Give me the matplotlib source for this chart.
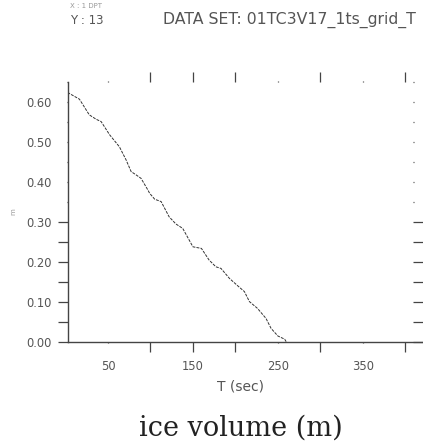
import matplotlib
matplotlib.use("Agg")
import matplotlib.pyplot as plt

# time (sec) and ice volume (m)
t_sec = [2.4, 16.5, 28, 36, 42, 52, 63.5, 71.4, 77.3, 83, 89, 97, 99, 105,
         112.6, 122, 130, 138, 150, 160, 169, 177, 183, 193, 203, 210.6,
         216.5, 226, 236, 242, 250, 258, 260]
ice_vol = [0.624, 0.607, 0.568, 0.557, 0.551, 0.518, 0.488, 0.455, 0.426,
           0.418, 0.409, 0.38, 0.372, 0.357, 0.351, 0.313, 0.295, 0.284,
           0.238, 0.234, 0.205, 0.188, 0.184, 0.159, 0.14, 0.126, 0.101,
           0.084, 0.059, 0.034, 0.015, 0.007, 0.0]

# ticks drawn in full, and the ones that only show as dots in the reference
x_full = [100, 150, 200, 300, 400]
x_full_labels = ["", "150", "", "", ""]
x_faint = [50, 250, 350]
x_faint_labels = ["50", "250", "350"]
y_full = [0.0, 0.05, 0.1, 0.15, 0.2, 0.25, 0.3]
y_full_labels = ["0.00", "", "0.10", "", "0.20", "", "0.30"]
y_faint = [0.35, 0.4, 0.45, 0.5, 0.55, 0.6, 0.65]
y_faint_labels = ["", "0.40", "", "0.50", "", "0.60", ""]

W, H = 423, 444
fig = plt.figure(figsize=(W / 100, H / 100), dpi=100)
ax = fig.add_axes([68 / W, 1 - 342 / H, (413 - 68) / W, (342 - 82) / H])

txtc = "#555555"
axc = "#444444"
ax.plot(t_sec, ice_vol, color="#333333", lw=0.7, ls=(0, (3, 1.2)))

ax.set_xlim(3, 409)
ax.set_ylim(0, 0.65)

ax.spines["top"].set_visible(False)
ax.spines["right"].set_visible(False)
for s in ("left", "bottom"):
    ax.spines[s].set_color(axc)
    ax.spines[s].set_linewidth(1.0)
ax.spines["bottom"].set_bounds(3, 421)

ax.xaxis.remove_overlapping_locs = False
ax.yaxis.remove_overlapping_locs = False
ax.set_xticks(x_full, labels=x_full_labels)
ax.set_xticks(x_faint, labels=x_faint_labels, minor=True)
ax.set_yticks(y_full, labels=y_full_labels)
ax.set_yticks(y_faint, labels=y_faint_labels, minor=True)

ax.tick_params(axis="both", which="both", direction="out", width=0.9,
               color=axc, labelcolor=txtc, labelsize=8.3)
ax.tick_params(axis="both", which="major", length=7.2)
ax.tick_params(axis="both", which="minor", length=1.0)
ax.tick_params(axis="x", which="both", top=True, bottom=True)
ax.tick_params(axis="x", which="major", pad=5.5)
ax.tick_params(axis="x", which="minor", pad=11.7)
ax.tick_params(axis="y", which="both", left=True, right=True)
ax.tick_params(axis="y", which="major", pad=4.3)
ax.tick_params(axis="y", which="minor", pad=10.5)

ax.set_xlabel("T (sec)", color=txtc, fontsize=10, labelpad=5)
ax.set_ylabel("m", color="#999999", fontsize=5)
ax.yaxis.set_label_coords(-0.15, 0.5)

fig.text(70 / W, 1 - 6 / H, "X : 1 DPT", color="#999999", fontsize=5,
         va="center")
fig.text(70 / W, 1 - 20 / H, "Y : 13", color=txtc, fontsize=8.5, va="center")
fig.text(163 / W, 1 - 20 / H, "DATA SET: 01TC3V17_1ts_grid_T", color=txtc,
         fontsize=11.3, va="center")
fig.text(241 / W, 1 - 428 / H, "ice volume (m)", family="DejaVu Serif",
         color="#222222", fontsize=19.5, ha="center", va="center")

fig.savefig("out.png", dpi=100)
